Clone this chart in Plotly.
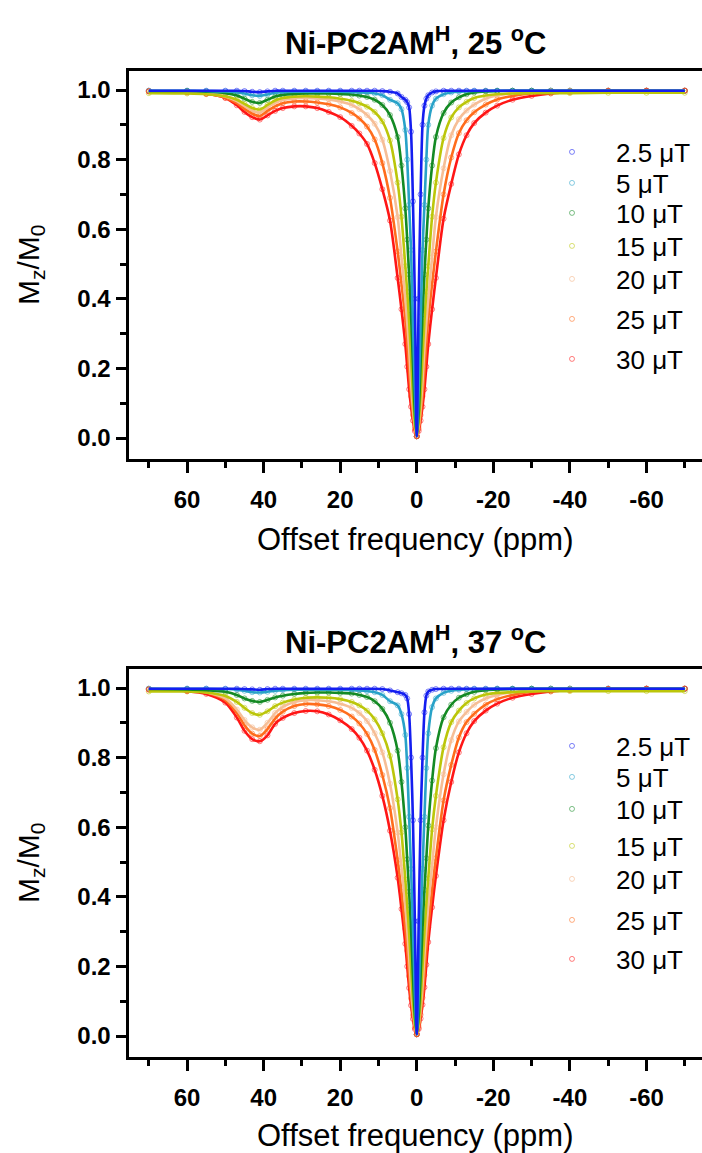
import plotly.graph_objects as go

# ---------------- data ----------------
OFFSETS_PPM = [70, 60, 55, 50, 47, 45, 43, 41, 39, 37, 35, 32, 29, 26, 23, 20, 17, 15, 13, 11,
               9, 7, 5, 4, 3, 2.5, 2, 1.5, 1, 0.5, 0,
               -0.5, -1, -1.5, -2, -2.5, -3, -4, -5, -7, -9, -11, -13, -15, -18, -21, -25,
               -30, -35, -40, -50, -60, -70]

B1_LABELS = ["2.5 \u03bcT", "5 \u03bcT", "10 \u03bcT", "15 \u03bcT", "20 \u03bcT", "25 \u03bcT", "30 \u03bcT"]

X_TICK_VALS = [60, 40, 20, 0, -20, -40, -60]
X_TICK_TEXT = ["60", "40", "20", "0", "-20", "-40", "-60"]
Y_TICK_VALS = [0.0, 0.2, 0.4, 0.6, 0.8, 1.0]
Y_TICK_TEXT = ["0.0", "0.2", "0.4", "0.6", "0.8", "1.0"]

PANEL_TITLES = ["Ni-PC2AM<sup>H</sup>, 25 <sup>o</sup>C", "Ni-PC2AM<sup>H</sup>, 37 <sup>o</sup>C"]

# 25 C
Z25_2P5UT = [0.998, 0.998, 0.998, 0.998, 0.998, 0.997, 0.995, 0.994, 0.996, 0.998,
             0.998, 0.998, 0.998, 0.998, 0.998, 0.998, 0.998, 0.998, 0.998, 0.998,
             0.997, 0.995, 0.99, 0.98, 0.972, 0.965, 0.95, 0.88, 0.68, 0.40, 0.005,
             0.40, 0.70, 0.90, 0.955, 0.975, 0.985, 0.993, 0.996, 0.998, 0.998, 0.998,
             0.998, 0.998, 0.998, 0.998, 0.998, 0.998, 0.998, 0.998, 0.998, 0.998, 0.998]
Z25_5UT = [0.998, 0.998, 0.997, 0.996, 0.994, 0.990, 0.985, 0.983, 0.987, 0.992,
           0.994, 0.995, 0.995, 0.995, 0.995, 0.995, 0.994, 0.993, 0.992, 0.990,
           0.985, 0.972, 0.962, 0.945, 0.885, 0.80, 0.67, 0.54, 0.33, 0.14, 0.005,
           0.14, 0.33, 0.54, 0.67, 0.80, 0.90, 0.955, 0.975, 0.988, 0.993, 0.995,
           0.996, 0.997, 0.997, 0.998, 0.998, 0.998, 0.998, 0.998, 0.998, 0.998, 0.998]
Z25_10UT = [0.997, 0.997, 0.995, 0.991, 0.984, 0.975, 0.966, 0.963, 0.972, 0.981,
            0.986, 0.989, 0.990, 0.990, 0.990, 0.989, 0.987, 0.984, 0.980, 0.972,
            0.957, 0.928, 0.865, 0.783, 0.66, 0.57, 0.47, 0.355, 0.213, 0.072, 0.005,
            0.072, 0.213, 0.355, 0.47, 0.57, 0.66, 0.783, 0.865, 0.934, 0.964, 0.979,
            0.988, 0.993, 0.996, 0.997, 0.998, 0.998, 0.998, 0.998, 0.998, 0.998, 0.998]
Z25_15UT = [0.991, 0.990, 0.988, 0.982, 0.972, 0.960, 0.948, 0.944, 0.957, 0.970,
            0.977, 0.981, 0.982, 0.981, 0.979, 0.975, 0.969, 0.962, 0.952, 0.937,
            0.910, 0.855, 0.734, 0.636, 0.494, 0.42, 0.334, 0.235, 0.122, 0.045, 0.005,
            0.045, 0.122, 0.235, 0.334, 0.42, 0.494, 0.636, 0.734, 0.862, 0.921, 0.950,
            0.966, 0.977, 0.984, 0.988, 0.990, 0.991, 0.991, 0.991, 0.992, 0.992, 0.992]
Z25_20UT = [0.997, 0.995, 0.991, 0.981, 0.968, 0.954, 0.941, 0.935, 0.950, 0.963,
            0.971, 0.976, 0.977, 0.976, 0.973, 0.967, 0.957, 0.945, 0.928, 0.903,
            0.857, 0.767, 0.635, 0.52, 0.40, 0.332, 0.257, 0.162, 0.086, 0.033, 0.005,
            0.033, 0.086, 0.162, 0.257, 0.332, 0.40, 0.52, 0.635, 0.775, 0.870, 0.916,
            0.941, 0.958, 0.975, 0.984, 0.991, 0.995, 0.997, 0.998, 0.998, 0.999, 0.999]
Z25_25UT = [0.996, 0.994, 0.990, 0.978, 0.962, 0.946, 0.932, 0.925, 0.940, 0.953,
            0.962, 0.967, 0.967, 0.964, 0.959, 0.950, 0.934, 0.918, 0.895, 0.858,
            0.79, 0.69, 0.536, 0.443, 0.342, 0.27, 0.193, 0.12, 0.066, 0.026, 0.005,
            0.026, 0.066, 0.12, 0.193, 0.27, 0.342, 0.443, 0.536, 0.70, 0.806, 0.876,
            0.913, 0.936, 0.958, 0.973, 0.983, 0.991, 0.995, 0.996, 0.998, 0.998, 0.998]
Z25_30UT = [0.996, 0.993, 0.989, 0.977, 0.956, 0.937, 0.922, 0.915, 0.927, 0.940,
            0.948, 0.953, 0.953, 0.948, 0.937, 0.922, 0.897, 0.875, 0.845, 0.79,
            0.715, 0.625, 0.46, 0.37, 0.27, 0.205, 0.14, 0.09, 0.05, 0.02, 0.005,
            0.02, 0.05, 0.09, 0.14, 0.205, 0.27, 0.37, 0.46, 0.63, 0.73, 0.815,
            0.87, 0.905, 0.935, 0.955, 0.972, 0.983, 0.990, 0.994, 0.997, 0.998, 0.998]

# 37 C
Z37_2P5UT = [0.998, 0.998, 0.998, 0.998, 0.998, 0.997, 0.996, 0.995, 0.997, 0.998,
             0.998, 0.998, 0.998, 0.998, 0.998, 0.998, 0.998, 0.998, 0.998, 0.998,
             0.997, 0.993, 0.988, 0.985, 0.98, 0.97, 0.925, 0.80, 0.62, 0.33, 0.005,
             0.33, 0.62, 0.80, 0.93, 0.978, 0.99, 0.995, 0.997, 0.998, 0.998, 0.998,
             0.998, 0.998, 0.998, 0.998, 0.998, 0.998, 0.998, 0.998, 0.998, 0.998, 0.998]
Z37_5UT = [0.998, 0.998, 0.998, 0.997, 0.995, 0.992, 0.988, 0.987, 0.989, 0.992,
           0.994, 0.995, 0.995, 0.995, 0.995, 0.995, 0.994, 0.993, 0.991, 0.988,
           0.98, 0.962, 0.95, 0.925, 0.865, 0.77, 0.63, 0.48, 0.31, 0.12, 0.005,
           0.12, 0.31, 0.48, 0.63, 0.77, 0.87, 0.945, 0.97, 0.986, 0.992, 0.995,
           0.996, 0.997, 0.997, 0.998, 0.998, 0.998, 0.998, 0.998, 0.998, 0.998, 0.998]
Z37_10UT = [0.997, 0.996, 0.994, 0.989, 0.980, 0.970, 0.963, 0.960, 0.966, 0.973,
            0.978, 0.983, 0.986, 0.987, 0.987, 0.986, 0.984, 0.980, 0.974, 0.962,
            0.94, 0.90, 0.82, 0.73, 0.60, 0.508, 0.415, 0.308, 0.172, 0.06, 0.005,
            0.061, 0.175, 0.311, 0.42, 0.511, 0.605, 0.734, 0.827, 0.916, 0.952, 0.972,
            0.982, 0.989, 0.994, 0.996, 0.997, 0.998, 0.998, 0.998, 0.998, 0.998, 0.998]
Z37_15UT = [0.990, 0.990, 0.987, 0.977, 0.960, 0.943, 0.928, 0.923, 0.933, 0.948,
            0.958, 0.967, 0.972, 0.973, 0.972, 0.968, 0.960, 0.950, 0.935, 0.910,
            0.87, 0.805, 0.68, 0.585, 0.45, 0.375, 0.295, 0.198, 0.103, 0.039, 0.005,
            0.039, 0.104, 0.20, 0.298, 0.379, 0.453, 0.594, 0.69, 0.83, 0.902, 0.935,
            0.957, 0.970, 0.981, 0.986, 0.988, 0.990, 0.991, 0.991, 0.991, 0.991, 0.991]
Z37_20UT = [0.997, 0.994, 0.988, 0.970, 0.938, 0.908, 0.887, 0.880, 0.900, 0.928,
            0.946, 0.960, 0.965, 0.965, 0.962, 0.955, 0.943, 0.928, 0.905, 0.870,
            0.815, 0.725, 0.585, 0.485, 0.372, 0.305, 0.228, 0.142, 0.077, 0.031, 0.005,
            0.031, 0.078, 0.144, 0.231, 0.308, 0.375, 0.491, 0.60, 0.752, 0.85, 0.904,
            0.931, 0.952, 0.970, 0.980, 0.988, 0.994, 0.996, 0.997, 0.998, 0.999, 0.999]
Z37_25UT = [0.996, 0.993, 0.987, 0.965, 0.928, 0.893, 0.869, 0.862, 0.882, 0.912,
            0.932, 0.948, 0.954, 0.953, 0.948, 0.937, 0.918, 0.898, 0.868, 0.822,
            0.75, 0.655, 0.505, 0.415, 0.308, 0.245, 0.172, 0.108, 0.06, 0.024, 0.005,
            0.024, 0.061, 0.11, 0.175, 0.25, 0.311, 0.42, 0.511, 0.677, 0.779, 0.858,
            0.902, 0.926, 0.952, 0.968, 0.980, 0.989, 0.994, 0.995, 0.997, 0.998, 0.998]
Z37_30UT = [0.995, 0.991, 0.983, 0.958, 0.915, 0.877, 0.853, 0.847, 0.864, 0.897,
            0.914, 0.928, 0.934, 0.933, 0.924, 0.907, 0.882, 0.857, 0.82, 0.765,
            0.69, 0.59, 0.455, 0.365, 0.265, 0.20, 0.138, 0.088, 0.049, 0.02, 0.005,
            0.02, 0.05, 0.09, 0.14, 0.205, 0.27, 0.37, 0.46, 0.62, 0.73, 0.815,
            0.87, 0.905, 0.935, 0.955, 0.972, 0.983, 0.990, 0.994, 0.997, 0.998, 0.998]

SERIES_25C = [Z25_2P5UT, Z25_5UT, Z25_10UT, Z25_15UT, Z25_20UT, Z25_25UT, Z25_30UT]
SERIES_37C = [Z37_2P5UT, Z37_5UT, Z37_10UT, Z37_15UT, Z37_20UT, Z37_25UT, Z37_30UT]

# ---------------- styling / layout ----------------
LINE_COLORS = ["rgb(20,30,240)", "rgb(40,162,200)", "rgb(20,138,36)", "rgb(188,198,10)",
               "rgb(246,190,150)", "rgb(255,108,28)", "rgb(255,22,22)"]
MARKER_COLORS = ["rgba(20,30,240,0.55)", "rgba(40,162,200,0.55)", "rgba(20,138,36,0.55)",
                 "rgba(188,198,10,0.55)", "rgba(246,190,150,0.65)", "rgba(255,108,28,0.55)",
                 "rgba(255,22,22,0.55)"]
FONT = "Arial, Liberation Sans, sans-serif"
W, H = 702, 1153
PANEL_SHIFT = [0, 598]                       # vertical offset of the second panel (px)
LEGEND_ROWS_PX = [[152, 183, 213, 246, 279, 319, 359],
                  [746, 777, 809, 846, 879, 920, 959]]
TITLE_Y_PX = [41, 640]
XTITLE_Y_PX = [540, 1135]
YTITLE_Y_PX = [265, 863]

fig = go.Figure()

legend_layout = {}
for p, series in enumerate([SERIES_25C, SERIES_37C]):
    xa = "x" if p == 0 else "x2"
    ya = "y" if p == 0 else "y2"
    for i, (label, z, mc) in enumerate(zip(B1_LABELS, series, MARKER_COLORS)):
        n = p * 7 + i + 1
        lg = "legend" if n == 1 else f"legend{n}"
        legend_layout[lg] = dict(
            x=528 / W, xanchor="left",
            y=1 - LEGEND_ROWS_PX[p][i] / H, yanchor="middle",
            bgcolor="rgba(0,0,0,0)", itemwidth=78,
            font=dict(family=FONT, size=26, color="black"),
        )
        fig.add_trace(go.Scatter(
            x=OFFSETS_PPM, y=z, mode="markers", name=label, legend=lg,
            xaxis=xa, yaxis=ya,
            marker=dict(symbol="circle-open", size=5, color=mc, line=dict(width=1, color=mc)),
        ))
    for label, z, lc in reversed(list(zip(B1_LABELS, series, LINE_COLORS))):
        fig.add_trace(go.Scatter(
            x=OFFSETS_PPM, y=z, mode="lines", name=label, showlegend=False,
            xaxis=xa, yaxis=ya,
            line=dict(color=lc, width=2.6, shape="spline", smoothing=0.8),
        ))


def xaxis_cfg(anchor):
    return dict(
        domain=[128.5 / W, 1.0], range=[75.3, -74.5], anchor=anchor,
        showline=True, linewidth=3, linecolor="black", mirror=True,
        ticks="outside", ticklen=11, tickwidth=3, tickcolor="black",
        tickmode="array", tickvals=X_TICK_VALS, ticktext=X_TICK_TEXT,
        ticklabelstandoff=6,
        minor=dict(ticks="outside", ticklen=6, tickwidth=3, tickcolor="black",
                   tickmode="linear", tick0=0, dtick=10),
        tickfont=dict(family=FONT, size=24, color="black", weight="bold"),
        showgrid=False, zeroline=False,
    )


def yaxis_cfg(anchor, top_px, bottom_px):
    return dict(
        domain=[1 - bottom_px / H, 1 - top_px / H], range=[-0.0603, 1.0546], anchor=anchor,
        showline=True, linewidth=3, linecolor="black", mirror=False,
        ticks="outside", ticklen=10, tickwidth=3, tickcolor="black",
        tickmode="array", tickvals=Y_TICK_VALS, ticktext=Y_TICK_TEXT,
        minor=dict(ticks="outside", ticklen=6, tickwidth=3, tickcolor="black",
                   tickmode="linear", tick0=0.1, dtick=0.2),
        tickfont=dict(family=FONT, size=24, color="black", weight="bold"),
        showgrid=False, zeroline=False,
    )


fig.update_layout(
    width=W, height=H,
    margin=dict(l=0, r=0, t=0, b=0),
    paper_bgcolor="white", plot_bgcolor="white",
    xaxis=xaxis_cfg("y"),
    yaxis=yaxis_cfg("x", 71, 459),
    xaxis2=xaxis_cfg("y2"),
    yaxis2=yaxis_cfg("x2", 71 + PANEL_SHIFT[1], 459 + PANEL_SHIFT[1]),
    **legend_layout,
)

annotations = []
for p, title in enumerate(PANEL_TITLES):
    annotations.append(dict(
        text=title, xref="paper", yref="paper", x=415 / W, y=1 - TITLE_Y_PX[p] / H,
        xanchor="center", yanchor="middle", showarrow=False,
        font=dict(family=FONT, size=31, color="black", weight="bold"),
    ))
    annotations.append(dict(
        text="Offset frequency (ppm)", xref="paper", yref="paper", x=415 / W,
        y=1 - XTITLE_Y_PX[p] / H, xanchor="center", yanchor="middle", showarrow=False,
        font=dict(family=FONT, size=31, color="black"),
    ))
    annotations.append(dict(
        text="M<sub>z</sub>/M<sub>0</sub>", xref="paper", yref="paper", x=30 / W,
        y=1 - YTITLE_Y_PX[p] / H, xanchor="center", yanchor="middle", showarrow=False,
        textangle=-90, font=dict(family=FONT, size=30, color="black"),
    ))
fig.update_layout(annotations=annotations)

# the page body has a default 8px margin; remove it so the figure fills the window
fig.write_html("out.html", config={"displayModeBar": False},
               post_script="document.body.style.margin='0px';")
